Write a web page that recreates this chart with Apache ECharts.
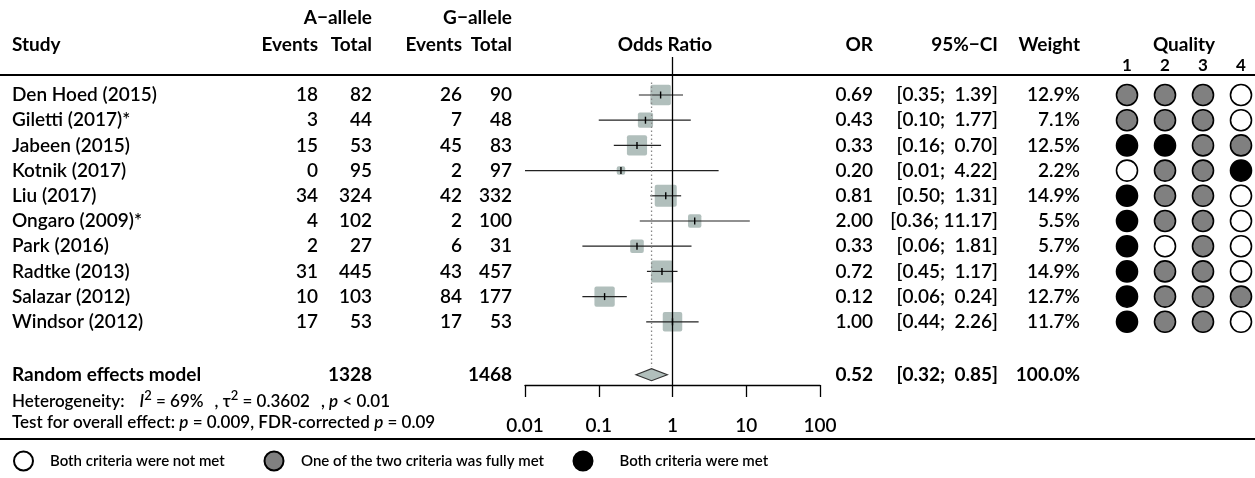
<!DOCTYPE html>
<html>
<head>
<meta charset="utf-8">
<script src="https://cdn.jsdelivr.net/npm/echarts@6/dist/echarts.min.js"></script>
<style>
  html, body { margin: 0; padding: 0; background: #fff; }
  #chart { width: 1255px; height: 478px; }
</style>
</head>
<body>
<div id="chart"></div>
<script>
// study data
var studies = ['Den Hoed (2015)', 'Giletti (2017)*', 'Jabeen (2015)', 'Kotnik (2017)', 'Liu (2017)',
               'Ongaro (2009)*', 'Park (2016)', 'Radtke (2013)', 'Salazar (2012)', 'Windsor (2012)'];
var aEvents = [18, 3, 15, 0, 34, 4, 2, 31, 10, 17];
var aTotal  = [82, 44, 53, 95, 324, 102, 27, 445, 103, 53];
var gEvents = [26, 7, 45, 2, 42, 2, 6, 43, 84, 17];
var gTotal  = [90, 48, 83, 97, 332, 100, 31, 457, 177, 53];
var orVals  = [0.69, 0.43, 0.33, 0.20, 0.81, 2.00, 0.33, 0.72, 0.12, 1.00];
var ciLow   = [0.35, 0.10, 0.16, 0.01, 0.50, 0.36, 0.06, 0.45, 0.06, 0.44];
var ciHigh  = [1.39, 1.77, 0.70, 4.22, 1.31, 11.17, 1.81, 1.17, 0.24, 2.26];
var weights = [12.9, 7.1, 12.5, 2.2, 14.9, 5.5, 5.7, 14.9, 12.7, 11.7];
// quality: 0 = both not met, 1 = one met, 2 = both met
var q1 = [1, 1, 2, 0, 2, 2, 2, 2, 2, 2];
var q2 = [1, 1, 2, 1, 1, 1, 0, 1, 1, 1];
var q3 = [1, 1, 1, 1, 1, 1, 1, 1, 1, 1];
var q4 = [0, 0, 1, 2, 0, 0, 0, 0, 1, 0];
var qualityNames = ['Both criteria were not met', 'One of the two criteria was fully met', 'Both criteria were met'];
var qualityColors = ['#ffffff', '#808080', '#000000'];
// pooled
var pooledOR = 0.52, pooledLow = 0.32, pooledHigh = 0.85;
var pooledATotal = 1328, pooledGTotal = 1468, pooledWeight = '100.0%';
var axisTicks = [0.01, 0.1, 1, 10, 100];

// layout
var FONT = 'Lato, "DejaVu Sans", sans-serif';
var BODY = '600 19px ' + FONT;
var BOLD = 'bold 19px ' + FONT;
var ROW0 = 95, ROWH = 25.2;       // pixel of first row, row height
var SUMROW = 11.1;                // random effects row
var forestTop = 57, forestBottom = 385, forestLeft = 525, forestRight = 820;
var qualX = [1127, 1165, 1203, 1241];
var W = 1255, H = 478;

function rowOf(px) { return (px - ROW0) / ROWH; }

var charts = echarts.init(document.getElementById('chart'));

// text column in the table grid
function textCol(xPos, align, texts, rows, bold) {
    var data = texts.map(function (t, i) { return [xPos, rows ? rows[i] : i]; });
    return {
        type: 'custom', xAxisIndex: 1, yAxisIndex: 1, silent: true,
        data: data,
        renderItem: function (params, api) {
            var p = api.coord([api.value(0), api.value(1)]);
            return {
                type: 'text', x: p[0], y: p[1],
                style: {
                    text: String(texts[params.dataIndex]), align: align, verticalAlign: 'middle',
                    font: bold ? BOLD : BODY, fill: '#000'
                }
            };
        }
    };
}

function fmtCI(lo, hi) {
    return '[' + lo.toFixed(2) + ';' + (hi < 10 ? '  ' : ' ') + hi.toFixed(2) + ']';
}
var ciText = ciLow.map(function (lo, i) { return fmtCI(lo, ciHigh[i]); });
var orText = orVals.map(function (v) { return v.toFixed(2); });
var wText = weights.map(function (v) { return v.toFixed(1) + '%'; });

// quality circles split by level
var qualSeries = [[], [], []];
[q1, q2, q3, q4].forEach(function (col, c) {
    col.forEach(function (lvl, i) { qualSeries[lvl].push([qualX[c], i]); });
});

var series = [];
series.push(textCol(12, 'left', studies));
series.push(textCol(318, 'right', aEvents));
series.push(textCol(372, 'right', aTotal));
series.push(textCol(462, 'right', gEvents));
series.push(textCol(512, 'right', gTotal));
series.push(textCol(873, 'right', orText));
series.push(textCol(998, 'right', ciText));
series.push(textCol(1080, 'right', wText));
// summary row
series.push(textCol(12, 'left', ['Random effects model'], [SUMROW], true));
series.push(textCol(372, 'right', [pooledATotal], [SUMROW], true));
series.push(textCol(512, 'right', [pooledGTotal], [SUMROW], true));
series.push(textCol(873, 'right', [pooledOR.toFixed(2)], [SUMROW], true));
series.push(textCol(998, 'right', [fmtCI(pooledLow, pooledHigh)], [SUMROW], true));
series.push(textCol(1080, 'right', [pooledWeight], [SUMROW], true));

qualSeries.forEach(function (d, lvl) {
    series.push({
        type: 'scatter', name: qualityNames[lvl], xAxisIndex: 1, yAxisIndex: 1,
        symbol: 'circle', symbolSize: 21, silent: true,
        itemStyle: { color: qualityColors[lvl], borderColor: '#000', borderWidth: 1.6, opacity: 1 },
        data: d
    });
});

// reference line at OR = 1
series.push({
    type: 'line', xAxisIndex: 0, yAxisIndex: 0, symbol: 'none', silent: true,
    lineStyle: { color: '#000', width: 1.3 },
    data: [[1, rowOf(forestTop)], [1, rowOf(forestBottom)]]
});
// pooled estimate dotted line
series.push({
    type: 'line', xAxisIndex: 0, yAxisIndex: 0, symbol: 'none', silent: true,
    lineStyle: { color: '#888', width: 1.3, type: [1.5, 2.5] },
    data: [[pooledOR, -0.5], [pooledOR, SUMROW - 0.32]]
});
// study squares + CIs
series.push({
    type: 'custom', xAxisIndex: 0, yAxisIndex: 0, silent: true,
    data: orVals.map(function (v, i) { return [v, ciLow[i], ciHigh[i], weights[i], i]; }),
    renderItem: function (params, api) {
        var p = api.coord([api.value(0), api.value(4)]);
        var lo = api.coord([api.value(1), api.value(4)]);
        var hi = api.coord([api.value(2), api.value(4)]);
        var s = 5.7 * Math.sqrt(api.value(3));
        return {
            type: 'group',
            children: [
                { type: 'rect', shape: { x: p[0] - s / 2, y: p[1] - s / 2, width: s, height: s, r: 2 },
                  style: { fill: '#b1bfbc' } },
                { type: 'line', shape: { x1: lo[0], y1: p[1], x2: hi[0], y2: p[1] },
                  style: { stroke: '#222', lineWidth: 1.2 } },
                { type: 'line', shape: { x1: p[0], y1: p[1] - 3.5, x2: p[0], y2: p[1] + 3.5 },
                  style: { stroke: '#000', lineWidth: 1.4 } }
            ]
        };
    }
});
// pooled diamond
series.push({
    type: 'custom', xAxisIndex: 0, yAxisIndex: 0, silent: true,
    data: [[pooledOR, pooledLow, pooledHigh, SUMROW]],
    renderItem: function (params, api) {
        var p = api.coord([api.value(0), api.value(3)]);
        var lo = api.coord([api.value(1), api.value(3)]);
        var hi = api.coord([api.value(2), api.value(3)]);
        return {
            type: 'polygon',
            shape: { points: [[lo[0], p[1]], [p[0], p[1] - 6], [hi[0], p[1]], [p[0], p[1] + 6]] },
            style: { fill: '#b1bfbc', stroke: '#333', lineWidth: 1.2 }
        };
    }
});

// header texts
function hdr(text, x, y, align, size) {
    return { type: 'text', x: x, y: y, silent: true,
             style: { text: text, align: align, verticalAlign: 'middle',
                      font: 'bold ' + (size || 19) + 'px ' + FONT, fill: '#000' } };
}
var n17 = '600 17px ' + FONT, i17 = 'italic 600 17px ' + FONT;
var graphics = [
    hdr('Study', 12, 45, 'left'),
    hdr('A\u2212allele', 372, 18, 'right'),
    hdr('Events', 318, 45, 'right'),
    hdr('Total', 372, 45, 'right'),
    hdr('G\u2212allele', 512, 18, 'right'),
    hdr('Events', 462, 45, 'right'),
    hdr('Total', 512, 45, 'right'),
    hdr('Odds Ratio', 665, 45, 'center'),
    hdr('OR', 873, 45, 'right'),
    hdr('95%\u2212CI', 998, 45, 'right'),
    hdr('Weight', 1080, 45, 'right'),
    hdr('Quality', 1184, 45, 'center'),
    { type: 'line', shape: { x1: 0, y1: 75, x2: W, y2: 75 }, style: { stroke: '#000', lineWidth: 2 }, silent: true },
    { type: 'line', shape: { x1: 0, y1: 439, x2: W, y2: 439 }, style: { stroke: '#000', lineWidth: 2 }, silent: true },
    { type: 'text', x: 12, y: 400, silent: true,
      style: {
          text: '{n|Heterogeneity:}{a| }{i|I}{s|2}{n| = 69%}{b| }{n|, \u03c4}{s|2}{n| = 0.3602}{b| }{n|, }{i|p}{n| < 0.01}',
          verticalAlign: 'middle', fill: '#000',
          rich: {
              n: { font: n17, lineHeight: 21, verticalAlign: 'bottom' },
              i: { font: i17, lineHeight: 21, verticalAlign: 'bottom' },
              s: { font: '600 13px ' + FONT, lineHeight: 13, verticalAlign: 'top' },
              a: { font: n17, width: 15, lineHeight: 21 },
              b: { font: n17, width: 11, lineHeight: 21 }
          }
      } },
    { type: 'text', x: 12, y: 423, silent: true,
      style: {
          text: '{n|Test for overall effect: }{i|p}{n| = 0.009, FDR-corrected }{i|p}{n| = 0.09}',
          verticalAlign: 'middle', fill: '#000',
          rich: {
              n: { font: n17 },
              i: { font: i17 }
          }
      } }
];
qualX.forEach(function (x, c) { graphics.push(hdr(String(c + 1), x, 66, 'center', 17)); });

function legendAt(left, name, gap) {
    return {
        left: left, top: 450.5, data: [name], icon: 'circle', itemWidth: 19, itemHeight: 19,
        selectedMode: false, itemGap: 0, padding: 0,
        textStyle: { fontFamily: FONT, fontWeight: 600, fontSize: 15, color: '#000', padding: [0, 0, 0, gap] }
    };
}

var option = {
    animation: false,
    backgroundColor: '#fff',
    legend: [legendAt(13, qualityNames[0], 12), legendAt(263.5, qualityNames[1], 12.5), legendAt(572.5, qualityNames[2], 22)],
    grid: [
        { left: forestLeft, width: forestRight - forestLeft, top: forestTop, height: forestBottom - forestTop },
        { left: 0, width: W, top: 0, height: H }
    ],
    xAxis: [
        { type: 'log', logBase: 10, min: 0.01, max: 100, gridIndex: 0, position: 'bottom',
          axisLine: { show: true, onZero: false, lineStyle: { color: '#000', width: 1.3 } },
          axisTick: { show: true, length: 12, lineStyle: { color: '#000', width: 1.3 } },
          minorTick: { show: false }, splitLine: { show: false },
          axisLabel: { margin: 31, fontFamily: FONT, fontWeight: 600, fontSize: 19, color: '#000',
                       formatter: function (v) { return axisTicks.indexOf(+v.toPrecision(3)) >= 0 ? String(+v.toPrecision(3)) : ''; } } },
        { type: 'value', min: 0, max: W, gridIndex: 1, show: false }
    ],
    yAxis: [
        { type: 'value', inverse: true, gridIndex: 0, show: false,
          min: rowOf(forestTop), max: rowOf(forestBottom) },
        { type: 'value', inverse: true, gridIndex: 1, show: false,
          min: rowOf(0), max: rowOf(H) }
    ],
    graphic: graphics,
    series: series
};
charts.setOption(option);
</script>
</body>
</html>
